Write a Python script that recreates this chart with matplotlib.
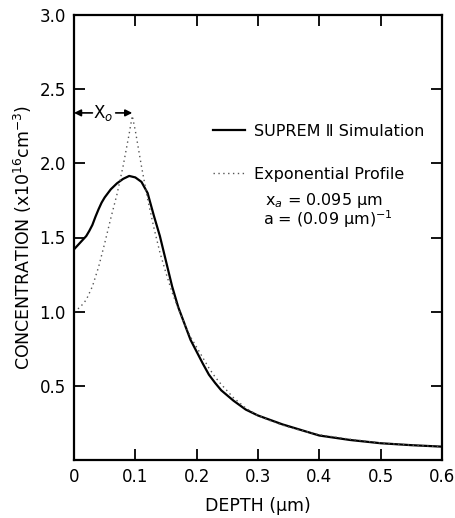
import numpy as np
import matplotlib
matplotlib.use("Agg")
import matplotlib.pyplot as plt

plt.rcParams['font.family'] = ['DejaVu Sans']

# depth (um) and concentration (x1e16 cm^-3)
depth_sim = [0.0, 0.01, 0.02, 0.025, 0.03, 0.035, 0.04, 0.045, 0.05, 0.06,
             0.07, 0.08, 0.09, 0.10, 0.11, 0.12, 0.13, 0.14, 0.15, 0.16,
             0.17, 0.18, 0.19, 0.20, 0.21, 0.22, 0.23, 0.24, 0.25, 0.26,
             0.27, 0.28, 0.29, 0.30, 0.32, 0.34, 0.36, 0.38, 0.40, 0.45,
             0.50, 0.55, 0.60]
conc_sim = [1.42, 1.465, 1.51, 1.545, 1.585, 1.64, 1.69, 1.735, 1.77, 1.825,
            1.865, 1.895, 1.915, 1.905, 1.875, 1.80, 1.65, 1.51, 1.34, 1.17,
            1.03, 0.92, 0.81, 0.73, 0.65, 0.575, 0.52, 0.47, 0.435, 0.40,
            0.37, 0.34, 0.32, 0.30, 0.27, 0.24, 0.215, 0.19, 0.165, 0.135,
            0.113, 0.10, 0.09]

depth_exp = [0.0, 0.01, 0.02, 0.03, 0.04, 0.05, 0.06, 0.07, 0.08, 0.09,
             0.095, 0.10, 0.11, 0.12, 0.13, 0.14, 0.15, 0.16, 0.17, 0.18,
             0.19, 0.20, 0.21, 0.22, 0.23, 0.24, 0.25, 0.26, 0.27, 0.28,
             0.29, 0.30, 0.32, 0.34, 0.36, 0.38, 0.40, 0.45, 0.50, 0.55,
             0.60]
conc_exp = [1.0, 1.03, 1.08, 1.17, 1.30, 1.46, 1.63, 1.79, 1.98, 2.20,
            2.32, 2.22, 1.98, 1.76, 1.57, 1.40, 1.26, 1.13, 1.02, 0.92,
            0.83, 0.76, 0.69, 0.62, 0.56, 0.51, 0.465, 0.42, 0.385, 0.35,
            0.325, 0.30, 0.265, 0.235, 0.21, 0.19, 0.17, 0.14, 0.115, 0.10,
            0.09]

x_o = 0.095
x_ticks = [0, 0.1, 0.2, 0.3, 0.4, 0.5, 0.6]
x_labels = ['0', '0.1', '0.2', '0.3', '0.4', '0.5', '0.6']
y_ticks = [0.5, 1.0, 1.5, 2.0, 2.5, 3.0]
y_labels = ['0.5', '1.0', '1.5', '2.0', '2.5', '3.0']

fig = plt.figure(figsize=(4.56, 5.18), dpi=100)
ax = fig.add_axes([74/456, 1 - 460/518, 368/456, 445/518])

ax.plot(depth_sim, conc_sim, color='black', lw=1.6,
        label='SUPREM \u2161 Simulation')
ax.plot(depth_exp, conc_exp, color='#555555', lw=1.0, ls=(0, (1, 2.5)),
        label='Exponential Profile')

ax.set_xlim(0, 0.6)
ax.set_ylim(0, 3.0)
ax.set_xticks(x_ticks)
ax.set_xticklabels(x_labels)
ax.set_yticks(y_ticks)
ax.set_yticklabels(y_labels)
ax.tick_params(direction='in', length=8, width=1.3, top=True, right=True,
               labelsize=12, pad=6, colors='black')
for sp in ax.spines.values():
    sp.set_linewidth(1.6)

ax.set_xlabel('DEPTH (\u00b5m)', fontsize=12.5, labelpad=8)
ax.set_ylabel('CONCENTRATION (x10$^{16}$cm$^{-3}$)', fontsize=12.5,
              labelpad=4)

# x_o arrow marker
ax.annotate('', xy=(0, 2.34), xytext=(0.03, 2.34),
            arrowprops=dict(arrowstyle='-|>', color='black', lw=1.2,
                            shrinkA=0, shrinkB=0, mutation_scale=10))
ax.annotate('', xy=(x_o, 2.34), xytext=(0.068, 2.34),
            arrowprops=dict(arrowstyle='-|>', color='black', lw=1.2,
                            shrinkA=0, shrinkB=0, mutation_scale=10))
ax.text(x_o / 2, 2.34, 'X$_o$', ha='center', va='center', fontsize=12)

leg = ax.legend(loc='upper left', bbox_to_anchor=(0.36, 0.77),
                frameon=False, fontsize=11.5, handlelength=2.0,
                handletextpad=0.55, labelspacing=1.75, borderaxespad=0)

ax.text(0.678, 0.584, 'x$_a$ = 0.095 \u00b5m', transform=ax.transAxes,
        ha='center', va='center', fontsize=11.5)
ax.text(0.69, 0.542, 'a = (0.09 \u00b5m)$^{-1}$', transform=ax.transAxes,
        ha='center', va='center', fontsize=11.5)

fig.savefig('out.png', dpi=100)
